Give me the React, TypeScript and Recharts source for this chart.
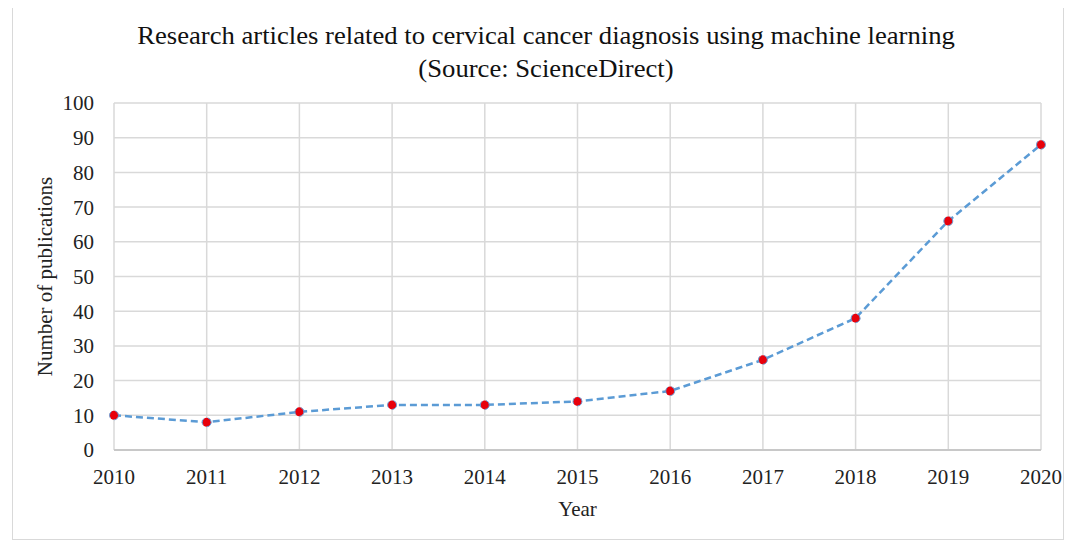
import * as React from 'react'
import { LineChart, CartesianGrid, XAxis, YAxis, Line, Label } from 'recharts'

const years = ['2010', '2011', '2012', '2013', '2014', '2015', '2016', '2017', '2018', '2019', '2020']
const publications = [10, 8, 11, 13, 13, 14, 17, 26, 38, 66, 88]
const yTicks = [0, 10, 20, 30, 40, 50, 60, 70, 80, 90, 100]

const data = years.map((year, i) => ({ year, count: publications[i] }))

const font = '"Liberation Serif", "Times New Roman", serif'

export default function App() {
  return (
    <div
      style={{
        position: 'relative',
        width: 1050,
        height: 534,
        border: '1px solid #d9d9d9',
        marginLeft: 4,
        marginTop: -4,
        fontFamily: font,
      }}
    >
      <div
        style={{
          position: 'absolute',
          top: 14,
          left: 0,
          width: 1066,
          textAlign: 'center',
          fontSize: 26,
          lineHeight: '33px',
          color: '#111',
          transform: 'scaleX(1.025)',
        }}
      >
        Research articles related to cervical cancer diagnosis using machine learning
        <br />
        (Source: ScienceDirect)
      </div>
      <LineChart
        width={1050}
        height={534}
        data={data}
        margin={{ top: 98, right: 22, left: 14, bottom: 17 }}
        style={{ fontFamily: font }}
      >
        <CartesianGrid stroke="#d9d9d9" strokeWidth={1.5} />
        <XAxis
          dataKey="year"
          tickLine={false}
          axisLine={{ stroke: '#c8c8c8', strokeWidth: 2 }}
          tickMargin={13}
          height={72}
          tick={{ fill: '#222', fontSize: 21 }}
        >
          <Label value="Year" position="insideBottom" offset={6} fill="#222" fontSize={21} />
        </XAxis>
        <YAxis
          domain={[0, 100]}
          ticks={yTicks}
          tickLine={false}
          axisLine={false}
          tickMargin={14}
          width={87}
          tick={{ fill: '#222', fontSize: 21 }}
        >
          <Label
            value="Number of publications"
            angle={-90}
            position="insideLeft"
            offset={18}
            style={{ textAnchor: 'middle' }}
            fill="#222"
            fontSize={21}
          />
        </YAxis>
        <Line
          type="linear"
          dataKey="count"
          stroke="#5b9bd5"
          strokeWidth={2.5}
          strokeDasharray="7 4"
          dot={{ r: 4.5, fill: '#e8000b', stroke: '#6a9fd8', strokeWidth: 1 }}
          isAnimationActive={false}
        />
      </LineChart>
    </div>
  )
}
